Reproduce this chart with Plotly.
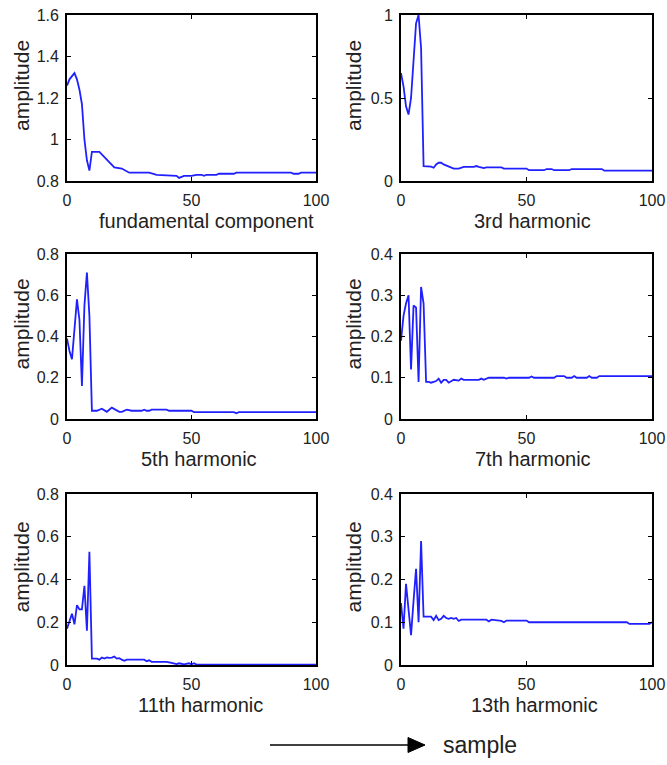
import plotly.graph_objects as go

# Harmonic amplitude envelopes over the sample index (vertices of each trace)
fund_x = [0, 1, 3, 4, 5, 6, 7, 8, 9, 10, 13, 19, 22, 25, 33, 36, 44, 45, 47, 50, 52, 54, 55, 56, 60, 61, 67, 68, 90, 91, 93, 94, 100]
fund_y = [1.26, 1.29, 1.32, 1.29, 1.24, 1.17, 1.00, 0.90, 0.85, 0.94, 0.94, 0.866, 0.86, 0.84, 0.84, 0.83, 0.825, 0.815, 0.825, 0.825, 0.83, 0.83, 0.825, 0.83, 0.83, 0.835, 0.835, 0.84, 0.84, 0.835, 0.835, 0.84, 0.84]

h3_x = [0, 1, 2, 3, 4, 5, 6, 7, 8, 9, 10, 12, 13, 14, 15, 16, 17, 19, 21, 23, 25, 29, 30, 31, 33, 34, 40, 41, 50, 51, 57, 58, 60, 61, 67, 68, 80, 81, 100]
h3_y = [0.65, 0.57, 0.45, 0.40, 0.50, 0.76, 0.95, 1.0, 0.80, 0.09, 0.09, 0.086, 0.08, 0.10, 0.11, 0.11, 0.10, 0.085, 0.075, 0.075, 0.085, 0.085, 0.09, 0.085, 0.078, 0.082, 0.082, 0.075, 0.075, 0.065, 0.065, 0.072, 0.072, 0.065, 0.065, 0.072, 0.072, 0.062, 0.062]

h5_x = [0, 1, 2, 3, 4, 5, 6, 7, 8, 9, 10, 12, 14, 16, 18, 21, 22, 24, 26, 30, 31, 32, 33, 34, 40, 41, 50, 51, 67, 68, 69, 100]
h5_y = [0.39, 0.33, 0.29, 0.45, 0.58, 0.48, 0.16, 0.55, 0.71, 0.50, 0.04, 0.04, 0.05, 0.035, 0.055, 0.035, 0.035, 0.045, 0.04, 0.04, 0.045, 0.04, 0.04, 0.045, 0.045, 0.04, 0.04, 0.033, 0.033, 0.028, 0.033, 0.033]

h7_x = [0, 1, 2, 3, 4, 5, 6, 7, 8, 9, 10, 11, 12, 13, 14, 15, 16, 17, 18, 19, 20, 21, 23, 24, 25, 31, 32, 33, 35, 41, 42, 43, 51, 52, 53, 61, 62, 65, 66, 68, 69, 70, 74, 75, 76, 78, 79, 100]
h7_y = [0.19, 0.25, 0.28, 0.30, 0.12, 0.275, 0.27, 0.09, 0.32, 0.28, 0.09, 0.09, 0.088, 0.09, 0.092, 0.098, 0.088, 0.095, 0.095, 0.088, 0.092, 0.095, 0.093, 0.098, 0.095, 0.095, 0.098, 0.095, 0.10, 0.10, 0.098, 0.10, 0.10, 0.103, 0.10, 0.10, 0.104, 0.104, 0.10, 0.10, 0.104, 0.10, 0.10, 0.104, 0.10, 0.10, 0.104, 0.104]

h11_x = [0, 1, 2, 3, 4, 5, 6, 7, 8, 9, 10, 12, 13, 14, 15, 16, 17, 18, 19, 20, 21, 22, 23, 24, 31, 32, 33, 34, 40, 42, 44, 45, 47, 49, 50, 51, 52, 100]
h11_y = [0.17, 0.21, 0.24, 0.19, 0.28, 0.26, 0.26, 0.37, 0.16, 0.53, 0.03, 0.03, 0.025, 0.035, 0.03, 0.035, 0.033, 0.035, 0.04, 0.03, 0.032, 0.025, 0.02, 0.025, 0.025, 0.018, 0.022, 0.015, 0.015, 0.01, 0.004, 0.008, 0.003, 0.008, 0.003, 0.008, 0.002, 0.002]

h13_x = [0, 1, 2, 3, 4, 5, 6, 7, 8, 9, 10, 12, 13, 14, 15, 16, 17, 18, 19, 20, 21, 22, 23, 24, 34, 35, 36, 40, 41, 42, 50, 51, 90, 91, 99, 100]
h13_y = [0.145, 0.085, 0.19, 0.12, 0.07, 0.15, 0.225, 0.10, 0.29, 0.113, 0.113, 0.113, 0.105, 0.115, 0.105, 0.108, 0.115, 0.11, 0.108, 0.11, 0.108, 0.11, 0.103, 0.106, 0.106, 0.102, 0.106, 0.103, 0.10, 0.104, 0.104, 0.10, 0.10, 0.096, 0.096, 0.10]

panel_names = ["fundamental component", "3rd harmonic", "5th harmonic",
               "7th harmonic", "11th harmonic", "13th harmonic"]
series_x = [fund_x, h3_x, h5_x, h7_x, h11_x, h13_x]
series_y = [fund_y, h3_y, h5_y, h7_y, h11_y, h13_y]
y_ranges = [[0.8, 1.6], [0, 1], [0, 0.8], [0, 0.4], [0, 0.8], [0, 0.4]]
y_ticks = [[0.8, 1, 1.2, 1.4, 1.6], [0, 0.5, 1], [0, 0.2, 0.4, 0.6, 0.8],
           [0, 0.1, 0.2, 0.3, 0.4], [0, 0.2, 0.4, 0.6, 0.8], [0, 0.1, 0.2, 0.3, 0.4]]
y_ticktext = [["0.8", "1", "1.2", "1.4", "1.6"], ["0", "0.5", "1"],
              ["0", "0.2", "0.4", "0.6", "0.8"], ["0", "0.1", "0.2", "0.3", "0.4"],
              ["0", "0.2", "0.4", "0.6", "0.8"], ["0", "0.1", "0.2", "0.3", "0.4"]]
x_ticks = [0, 50, 100]

W, H = 667, 765
FONT = "Liberation Sans, Arial, sans-serif"
TXT = "#222222"

# panel boxes in pixels: (left, right) per column, (top, bottom) per row
cols_px = [(67, 316), (401, 652)]
rows_px = [(15, 181), (254, 419), (494, 665)]
# horizontal nudge of each panel's caption below the axes
caption_shift = [15, 6, 7, 6, 9, 8]

fig = go.Figure()
annotations = []
for i in range(6):
    r, c = divmod(i, 2)
    n = i + 1
    xa = "xaxis" if n == 1 else f"xaxis{n}"
    ya = "yaxis" if n == 1 else f"yaxis{n}"
    xr = "x" if n == 1 else f"x{n}"
    yr = "y" if n == 1 else f"y{n}"
    fig.add_trace(go.Scatter(x=series_x[i], y=series_y[i], mode="lines",
                             line=dict(color="#2020ff", width=1.8),
                             xaxis=xr, yaxis=yr, showlegend=False))
    x0, x1 = cols_px[c]
    t, b = rows_px[r]
    common = dict(showline=True, linecolor="black", linewidth=1.8, mirror="ticks",
                  ticks="inside", ticklen=4, tickwidth=1, tickcolor="black",
                  showgrid=False, zeroline=False, automargin=False,
                  tickfont=dict(family=FONT, size=16, color=TXT))
    fig.layout[xa] = dict(domain=[x0 / W, x1 / W], range=[0, 100],
                          tickvals=x_ticks, anchor=yr,
                          ticklabelstandoff=4, **common)
    fig.layout[ya] = dict(domain=[1 - b / H, 1 - t / H], range=y_ranges[i],
                          tickvals=y_ticks[i], ticktext=y_ticktext[i], anchor=xr,
                          ticklabelstandoff=3, **common)
    annotations.append(dict(text=panel_names[i], xref=f"{xr} domain", yref=f"{yr} domain",
                            x=0.5, y=0, xanchor="center", yanchor="middle",
                            xshift=caption_shift[i], yshift=-40,
                            showarrow=False, font=dict(family=FONT, size=20, color=TXT)))
    annotations.append(dict(text="amplitude", xref=f"{xr} domain", yref=f"{yr} domain",
                            x=0, y=0.5, xanchor="center", yanchor="middle",
                            xshift=-46 if c == 0 else -48, yshift=12, textangle=-90,
                            showarrow=False, font=dict(family=FONT, size=21, color=TXT)))

annotations.append(dict(text="sample", xref="paper", yref="paper",
                        x=480 / W, y=1 - 745 / H, xanchor="center", yanchor="middle",
                        showarrow=False, font=dict(family=FONT, size=23, color=TXT)))

# direction arrow next to the "sample" label
shapes = [
    dict(type="line", xref="paper", yref="paper",
         x0=270 / W, x1=410 / W, y0=1 - 745 / H, y1=1 - 745 / H,
         line=dict(color="black", width=1.5)),
    dict(type="path", xref="paper", yref="paper",
         path=f"M {408 / W},{1 - 737.5 / H} L {425 / W},{1 - 745 / H} L {408 / W},{1 - 752.5 / H} Z",
         fillcolor="black", line=dict(color="black", width=1)),
]

fig.update_layout(width=W, height=H, margin=dict(l=0, r=0, t=0, b=0, autoexpand=False),
                  paper_bgcolor="white", plot_bgcolor="white",
                  annotations=annotations, shapes=shapes,
                  font=dict(family=FONT, color=TXT))

fig.write_html("out.html")
